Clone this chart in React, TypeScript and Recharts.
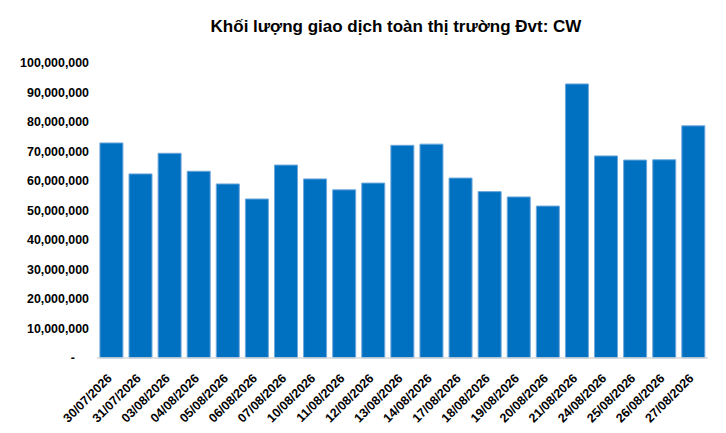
import { BarChart, Bar, XAxis, YAxis } from 'recharts';

const dates = [
  '30/07/2026', '31/07/2026', '03/08/2026', '04/08/2026', '05/08/2026', '06/08/2026',
  '07/08/2026', '10/08/2026', '11/08/2026', '12/08/2026', '13/08/2026', '14/08/2026',
  '17/08/2026', '18/08/2026', '19/08/2026', '20/08/2026', '21/08/2026', '24/08/2026',
  '25/08/2026', '26/08/2026', '27/08/2026',
];

const volumes = [
  72900000, 62400000, 69400000, 63300000, 59000000, 53900000,
  65400000, 60700000, 57000000, 59300000, 72100000, 72500000,
  61000000, 56400000, 54600000, 51500000, 92900000, 68500000,
  67100000, 67200000, 78700000,
];

const yTicks = [0, 10000000, 20000000, 30000000, 40000000, 50000000, 60000000, 70000000, 80000000, 90000000, 100000000];

const chartData = dates.map((date, i) => ({ date, volume: volumes[i] }));

const font = "'Liberation Sans', Arial, sans-serif";

const YTick = (props: any) => {
  const { x, y, payload } = props;
  const zero = payload.value === 0;
  return (
    <text
      x={zero ? x - 14 : x}
      y={y}
      dy="0.355em"
      textAnchor="end"
      fontSize={12.4}
      fontWeight="bold"
      fontFamily={font}
      fill="#000"
    >
      {zero ? '-' : payload.value.toLocaleString('en-US')}
    </text>
  );
};

const XTick = (props: any) => {
  const { x, y, payload } = props;
  const ax = x + 1;
  const ay = y + 13;
  return (
    <text
      x={ax}
      y={ay}
      transform={`rotate(-45, ${ax}, ${ay})`}
      textAnchor="end"
      fontSize={12.5}
      fontWeight="bold"
      fontFamily={font}
      fill="#000"
    >
      {payload.value}
    </text>
  );
};

export default function App() {
  return (
    <div style={{ position: 'absolute', left: 0, top: 0, width: 726, height: 433, background: '#fff' }}>
      <div
        style={{
          position: 'absolute',
          left: 146,
          width: 500,
          top: 17,
          textAlign: 'center',
          fontFamily: font,
          fontWeight: 'bold',
          fontSize: 17,
          color: '#000',
        }}
      >
        Khối lượng giao dịch toàn thị trường Đvt: CW
      </div>
      <BarChart
        width={726}
        height={433}
        data={chartData}
        margin={{ top: 63, right: 18, left: 0, bottom: 0 }}
        barCategoryGap="10%"
      >
        <XAxis
          dataKey="date"
          interval={0}
          tick={<XTick />}
          tickLine={false}
          axisLine={{ stroke: '#D9D9D9', strokeWidth: 1.5 }}
          height={75}
        />
        <YAxis
          domain={[0, 100000000]}
          ticks={yTicks}
          tick={<YTick />}
          tickLine={false}
          axisLine={false}
          width={97}
          interval={0}
        />
        <Bar dataKey="volume" fill="#0070C0" stroke="#6FA8DC" strokeWidth={1} isAnimationActive={false} />
      </BarChart>
    </div>
  );
}
